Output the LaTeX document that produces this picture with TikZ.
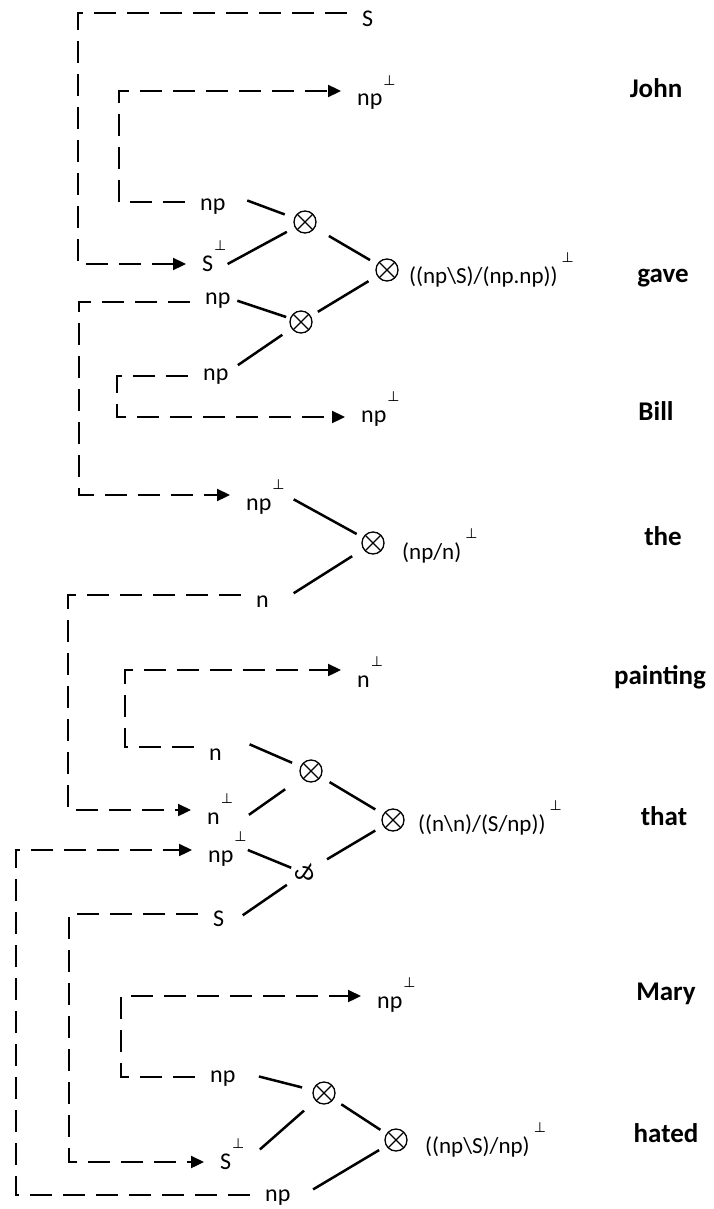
\documentclass[tikz,border=0pt]{standalone}
\usepackage{fontspec}
\setmainfont{Carlito}
\newfontfamily\perpfont{DejaVu Sans}
\usetikzlibrary{arrows.meta}
\newcommand{\dualmark}[1][1pt]{\kern#1\raisebox{20.5pt}{\fontsize{14}{14}\selectfont\perpfont ⊥}} % 右上角的 ⊥ 记号

\begin{document}
\begin{tikzpicture}[x=1pt, y=-1pt, >={Triangle[length=13pt,width=12pt]}, % 坐标按像素取，y 轴向下
  lbl/.style={font=\fontsize{24}{26}\selectfont, inner sep=1pt, text height=#1, text depth=0pt, anchor=west}, % 类型标签；text height 决定文字相对连线的高低
  lbl/.default=20pt,
  formula/.style={font=\fontsize{23}{25}\selectfont, inner sep=0pt, anchor=base west}, % 词的类型公式
  word/.style={font=\fontsize{27}{30}\selectfont\bfseries, inner sep=0pt, anchor=base}, % 右侧单词
  tensor/.style={circle, draw, line width=1.3pt, minimum size=22pt, inner sep=0pt,
    path picture={\draw[line width=1.3pt] (path picture bounding box.north west) -- (path picture bounding box.south east)
      (path picture bounding box.south west) -- (path picture bounding box.north east);}}, % ⊗ 节点
  parr/.style={circle, inner sep=0pt, minimum size=20pt, font=\fontsize{26}{28}\selectfont, rotate=100}, % 横放的 & 节点
  link/.style={line width=2.3pt, dash pattern=on 22pt off 11pt, shorten <=14pt, shorten >=15pt}, % 虚线连接
  tie/.style 2 args={line width=2.5pt, shorten <=#1, shorten >=#2}] % 实线连接，两端各留空隙
  \useasboundingbox (0,0) rectangle (714,1209); % 固定画布大小

  % 右侧单词
  \node[word] (wJohn) at (656,98) {John};
  \node[word] (wGave) at (663,282) {gave};
  \node[word] (wBill) at (656,420) {Bill};
  \node[word] (wThe) at (663,545) {the};
  \node[word] (wPainting) at (660,684) {painting};
  \node[word] (wThat) at (664,825) {that};
  \node[word] (wMary) at (666,1000) {Mary};
  \node[word] (wHated) at (666,1142) {hated};

  % 虚线拐角所在的竖线位置
  \coordinate (kA) at (78,0);
  \coordinate (kB) at (119,0);
  \coordinate (kC) at (79,0);
  \coordinate (kD) at (117,0);
  \coordinate (kE) at (68,0);
  \coordinate (kF) at (125,0);
  \coordinate (kG) at (16,0);
  \coordinate (kH) at (69,0);
  \coordinate (kI) at (121,0);

  % John
  \node[lbl=28pt] (sTop) at (361,13) {S};
  \node[lbl=30pt] (npJ) at (356,91) {np\dualmark};

  % gave
  \node[lbl=16pt] (npG1) at (199,202) {np};
  \node[lbl=14pt] (sG) at (201,264) {S\dualmark};
  \node[lbl=4pt] (npG2) at (204,302) {np};
  \node[lbl=8pt] (npG3) at (202,376) {np};
  \node[tensor] (ot1) at (305,222) {};
  \node[tensor] (ot2) at (387,270) {};
  \node[tensor] (ot3) at (301,322) {};
  \node[formula] (fGave) at (409,283) {((np\textbackslash S)/(np.np))\dualmark[4pt]};

  % Bill 与 the
  \node[lbl=10pt] (npB) at (360,417) {np\dualmark};
  \node[lbl=30pt] (npT) at (245,495) {np\dualmark};
  \node[lbl=24pt] (nT) at (255,595) {n};
  \node[tensor] (ot4) at (373,543) {};
  \node[formula] (fThe) at (402,559) {(np/n)\dualmark[4pt]};

  % painting 与 that
  \node[lbl=34pt] (nP) at (356,670) {n\dualmark};
  \node[lbl=26pt] (nTh1) at (208,747) {n};
  \node[lbl=28pt] (nTh) at (206,810) {n\dualmark};
  \node[lbl=24pt] (npTh) at (207,850) {np\dualmark};
  \node[lbl=24pt] (sTh) at (212,914) {S};
  \node[tensor] (ot5) at (311,771) {};
  \node[tensor] (ot6) at (393,820) {};
  \node[parr] (parTh) at (304,873) {\&};
  \node[formula] (fThat) at (418,831) {((n\textbackslash n)/(S/np))\dualmark[4pt]};

  % Mary 与 hated
  \node[lbl=24pt] (npM) at (376,996) {np\dualmark};
  \node[lbl=10pt] (npH1) at (209,1077) {np};
  \node[lbl=14pt] (sH) at (219,1162) {S\dualmark};
  \node[lbl=12pt] (npH2) at (264,1195) {np};
  \node[tensor] (ot7) at (324,1093) {};
  \node[tensor] (ot8) at (396,1140) {};
  \node[formula] (fHated) at (425,1153) {((np\textbackslash S)/np)\dualmark[4pt]};

  % 虚线：先向左，再竖直，最后水平指向对偶标签
  \draw[link,->] (sTop) -- (sTop -| kA) |- (sG);
  \draw[link,->] (npG1) -- (npG1 -| kB) |- (npJ);
  \draw[link,->] (npG2) -- (npG2 -| kC) |- (npT);
  \draw[link,->] (npG3) -- (npG3 -| kD) |- (npB);
  \draw[link,->] (nT) -- (nT -| kE) |- (nTh);
  \draw[link,->] (nTh1) -- (nTh1 -| kF) |- (nP);
  \draw[link,->] (npH2) -- (npH2 -| kG) |- (npTh);
  \draw[link,->] (sTh) -- (sTh -| kH) |- (sH);
  \draw[link,->] (npH1) -- (npH1 -| kI) |- (npM);

  % 实线：标签汇入 ⊗ / 横放的 &
  \draw[tie={22pt}{10pt}] (npG1.north east) -- (ot1);
  \draw[tie={0pt}{9pt}] (sG.east) -- (ot1);
  \draw[tie={16pt}{8pt}] (ot1) -- (ot2);
  \draw[tie={6pt}{4pt}] (npG2.north east) -- (ot3);
  \draw[tie={10pt}{11pt}] (npG3.north east) -- (ot3);
  \draw[tie={8pt}{10pt}] (ot3) -- (ot2);
  \draw[tie={9pt}{7pt}] (npT.east) -- (ot4);
  \draw[tie={28pt}{13pt}] (nT.south east) -- (ot4);
  \draw[tie={29pt}{9pt}] (nTh1.north east) -- (ot5);
  \draw[tie={18pt}{20pt}] (nTh.south east) -- (ot5);
  \draw[tie={10pt}{9pt}] (ot5) -- (ot6);
  \draw[tie={0pt}{1pt}] (npTh.east) -- (parTh);
  \draw[tie={21pt}{8pt}] (sTh.south east) -- (parTh);
  \draw[tie={14pt}{9pt}] (parTh) -- (ot6);
  \draw[tie={23pt}{11pt}] (npH1.north east) -- (ot7);
  \draw[tie={19pt}{15pt}] (sH.east) -- (ot7);
  \draw[tie={9pt}{7pt}] (ot7) -- (ot8);
  \draw[tie={25pt}{8pt}] (npH2.south east) -- (ot8);
\end{tikzpicture}
\end{document}
